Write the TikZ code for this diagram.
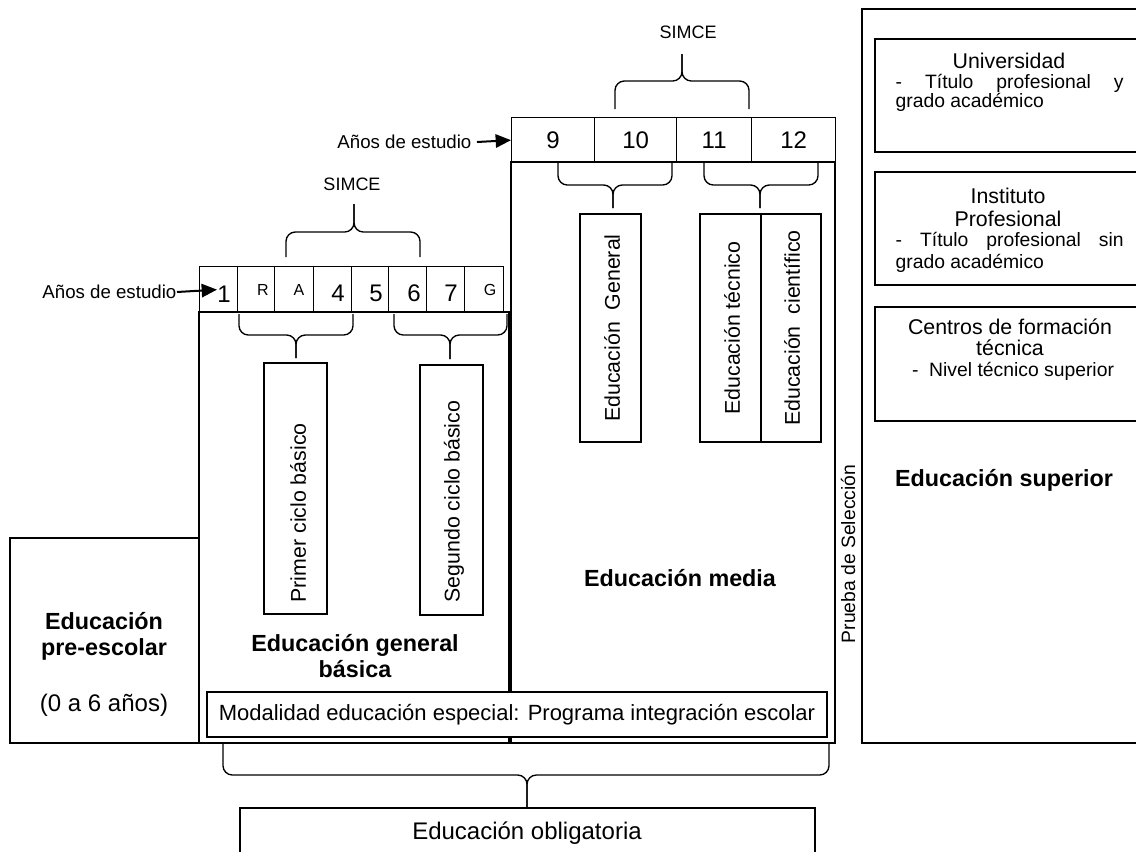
\documentclass[tikz,border=0pt]{standalone}
\usepackage{fontspec}
\setmainfont{Liberation Sans}
\usetikzlibrary{arrows.meta}
\newcommand\szBody{\fontsize{16pt}{19pt}\selectfont}
\newcommand\szBig{\fontsize{18pt}{21pt}\selectfont}
\newcommand\szMod{\fontsize{16.5pt}{19pt}\selectfont}
\newcommand\szNum{\fontsize{18pt}{21pt}\selectfont}
\newcommand\szSmall{\fontsize{12pt}{14pt}\selectfont}
\newcommand\szLab{\fontsize{14pt}{17pt}\selectfont}
\newcommand\szSim{\fontsize{13.5pt}{16pt}\selectfont}
\newcommand\szSub{\fontsize{14.5pt}{17pt}\selectfont}
\newcommand\szBold{\fontsize{17.5pt}{19.5pt}\selectfont\bfseries}
\newcommand\mybrace[6]{%
  \draw[bracepath] (#1,#4) -- (#1,#5) -- (#3,#5) -- (#3,#6);
  \draw[bracepath] (#2,#4) -- (#2,#5) -- (#3,#5) -- (#3,#6);}
\begin{document}
\begin{tikzpicture}[x=0.75pt,y=-0.75pt,line width=1pt,
  bracepath/.style={line width=1pt,rounded corners=7pt},
  txt/.style={inner sep=0pt},
  cellA/.style={draw,inner sep=0pt,minimum height=34.5pt,anchor=north west},
  cellB/.style={draw,inner sep=0pt,minimum height=33.75pt,anchor=north west,font=\szNum},
  arr/.style={line width=1.5pt,-{Triangle[length=11.5pt,width=10pt]}}]
\useasboundingbox (0,0) rectangle (1136,851);
\fill[white] (0,0) rectangle (1136,851);
\clip (0,0) rectangle (1136,851);

% ---- Educación superior
\draw (862,9) rectangle (1150,743);
\draw (875,39) rectangle (1150,152);
\draw (875,172) rectangle (1150,285);
\draw (875,307) rectangle (1150,421);
\node[txt,font=\szBody] (univ) at (1009,61) {Universidad};
\node[txt,font=\szSub,anchor=west] (univa) at (895,83) {\makebox[171pt][s]{- Título profesional y}};
\node[txt,font=\szSub,anchor=west] (univb) at (895,102) {grado académico};
\node[txt,font=\szBody] (inst1) at (1008,196) {Instituto};
\node[txt,font=\szBody] (inst2) at (1008,219) {Profesional};
\node[txt,font=\szSub,anchor=west] (inst3) at (895,241) {\makebox[171pt][s]{- Título profesional sin}};
\node[txt,font=\szSub,anchor=west] (inst4) at (895,263) {grado académico};
\node[txt,font=\szBody] (cft1) at (1010,327) {Centros de formación};
\node[txt,font=\szBody] (cft2) at (1010,348) {técnica};
\node[txt,font=\szSub] (cft3) at (1013,371) {-\ \ Nivel técnico superior};
\node[txt,font=\szBold] (sup) at (1004,480) {Educación superior};

\node[txt,font=\szSub,rotate=90] (prueba) at (848,554) {Prueba de Selección};

% ---- Pre-escolar
\draw (10,538) rectangle (199,743);
\node[txt,font=\szBold,align=center] (pre) at (104,636) {Educación\\pre-escolar};
\node[txt,font=\szBig] (preage) at (104,705) {(0 a 6 años)};

% ---- Básica
\draw (199,312) rectangle (509,743);
\node[cellA,minimum width=28.5pt] (c1) at (199,266) {};
\node[cellA,minimum width=27.75pt] (cR) at (237,266) {};
\node[cellA,minimum width=29.25pt] (cA) at (274,266) {};
\node[cellA,minimum width=28.5pt] (c4) at (313,266) {};
\node[cellA,minimum width=27.75pt] (c5) at (351,266) {};
\node[cellA,minimum width=28.5pt] (c6) at (388,266) {};
\node[cellA,minimum width=28.5pt] (c7) at (426,266) {};
\node[cellA,minimum width=29.25pt] (cG) at (464,266) {};
\node[txt,font=\szNum] (l1) at (224,294) {1};
\node[txt,font=\szSmall] (lR) at (263,290) {R};
\node[txt,font=\szSmall] (lA) at (299,290) {A};
\node[txt,font=\szNum] (l4) at (338,293) {4};
\node[txt,font=\szNum] (l5) at (376,293) {5};
\node[txt,font=\szNum] (l6) at (414,293) {6};
\node[txt,font=\szNum] (l7) at (451,293) {7};
\node[txt,font=\szSmall] (lG) at (490,290) {G};
\node[txt,font=\szLab,anchor=east] (ae1) at (177,292) {Años de estudio};
\draw[arr] (ae1.east) -- ([xshift=13.5pt]c1.west);

\node[txt,font=\szSim] (simce2) at (352,184) {SIMCE};
\mybrace{286}{420}{354}{257}{232}{204}
\mybrace{239}{353}{296}{314}{335}{358}
\mybrace{394}{507}{450}{314}{335}{359}

\draw (264,363) rectangle (327,614);
\draw (420,365) rectangle (483,615);
\node[txt,font=\szBody,rotate=90,anchor=west] (primer) at (298,603) {Primer ciclo básico};
\node[txt,font=\szBody,rotate=90,anchor=west] (segundo) at (454,603) {Segundo ciclo básico};
\node[txt,font=\szBold,align=center] (basica) at (355,656) {Educación general\\básica};

% ---- Media
\draw (511,162) rectangle (835,743);
\node[cellB,minimum width=62.25pt] (c9) at (511,117) {9};
\node[cellB,minimum width=61.5pt] (c10) at (594,117) {10};
\node[cellB,minimum width=56.25pt] (c11) at (676,117) {11};
\node[cellB,minimum width=63pt] (c12) at (751,117) {12};
\node[txt,font=\szLab,anchor=east] (ae2) at (472,142) {Años de estudio};
\draw[arr] ([xshift=3.75pt]ae2.east) -- (c9.west);
\node[txt,font=\szSim] (simce1) at (688,32) {SIMCE};
\mybrace{615}{749}{682}{109}{81}{54}
\mybrace{558}{672}{613}{163}{185}{208}
\mybrace{704}{818}{760}{163}{185}{208}
\draw (580,214) rectangle (641,442);
\draw (700,214) rectangle (761,442);
\draw (761,214) rectangle (821,442);
\node[txt,font=\szBody,rotate=90] (egen) at (612,328) {Educación\ \ General};
\node[txt,font=\szBody,rotate=90] (etec) at (732,328) {Educación técnico};
\node[txt,font=\szBody,rotate=90] (ecie) at (792,328) {Educación\ \ científico};
\node[txt,font=\szBold] (media) at (680,578) {Educación media};

% ---- Modalidad
\node[draw,fill=white,inner sep=0pt,minimum width=465pt,minimum height=33.75pt,font=\szMod] (modal) at (517,714.5) {Modalidad educación especial: Programa integración escolar};

% ---- Obligatoria
\mybrace{223}{829}{527}{743}{775}{807}
\draw (240,808) rectangle (815,900);
\node[txt,font=\szBig] (oblig) at (527,833) {Educación obligatoria};
\end{tikzpicture}
\end{document}
